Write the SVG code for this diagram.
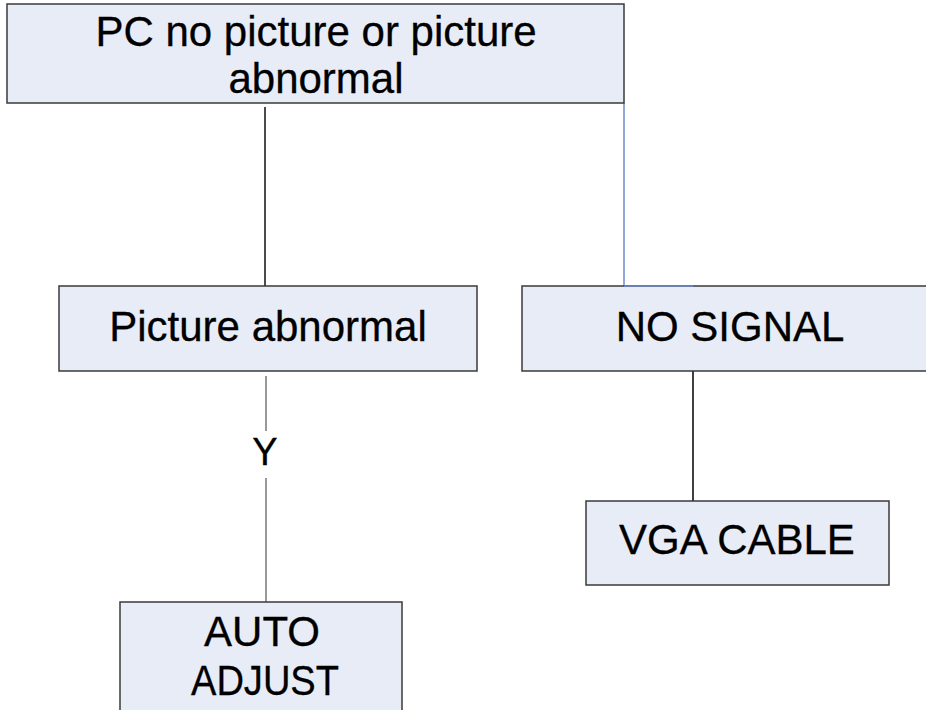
<svg xmlns="http://www.w3.org/2000/svg" width="926" height="710" viewBox="0 0 926 710">
<style>
.box{fill:#E8ECF6;stroke:#3a3a3a;stroke-width:1.5}
.t{font-family:"Liberation Sans",Arial,sans-serif;font-size:42px;fill:#000;text-anchor:middle;stroke:#000;stroke-width:0.3}
.c{fill:none;stroke-width:1.5}
</style>
<rect width="926" height="710" fill="#fff"/>
<g id="connectors">
<line class="c" x1="265" y1="107" x2="265" y2="286" stroke="#111"/>
<polyline class="c" points="624,103 624,286 693,286" stroke="#6B8FCB"/>
<line class="c" x1="693" y1="371" x2="693" y2="501" stroke="#000" stroke-width="2"/>
<line class="c" x1="266" y1="376" x2="266" y2="431" stroke="#777"/>
<line class="c" x1="266" y1="478" x2="266" y2="602" stroke="#777"/>
<text class="t" x="265" y="465" style="font-size:38px">Y</text>
</g>
<g id="n_top">
<rect class="box" x="7" y="4" width="617" height="99"/>
<text class="t" x="316" y="46">PC no picture or picture</text>
<text class="t" x="316" y="93">abnormal</text>
</g>
<g id="n_abnormal">
<rect class="box" x="59" y="286" width="418" height="85"/>
<text class="t" x="268" y="341">Picture abnormal</text>
</g>
<g id="n_nosignal">
<rect class="box" x="522" y="286" width="410" height="85"/>
<polyline points="624,286 693,286" stroke="#6B8FCB" stroke-width="1.5" fill="none"/>
<text class="t" x="730" y="341">NO SIGNAL</text>
</g>
<g id="n_vga">
<rect class="box" x="586" y="501" width="303" height="84"/>
<text class="t" x="737" y="554">VGA CABLE</text>
</g>
<g id="n_auto">
<rect class="box" x="120" y="602" width="282" height="120"/>
<text class="t" x="262" y="646">AUTO</text>
<text class="t" x="265" y="695" textLength="148" lengthAdjust="spacingAndGlyphs">ADJUST</text>
</g>
</svg>
